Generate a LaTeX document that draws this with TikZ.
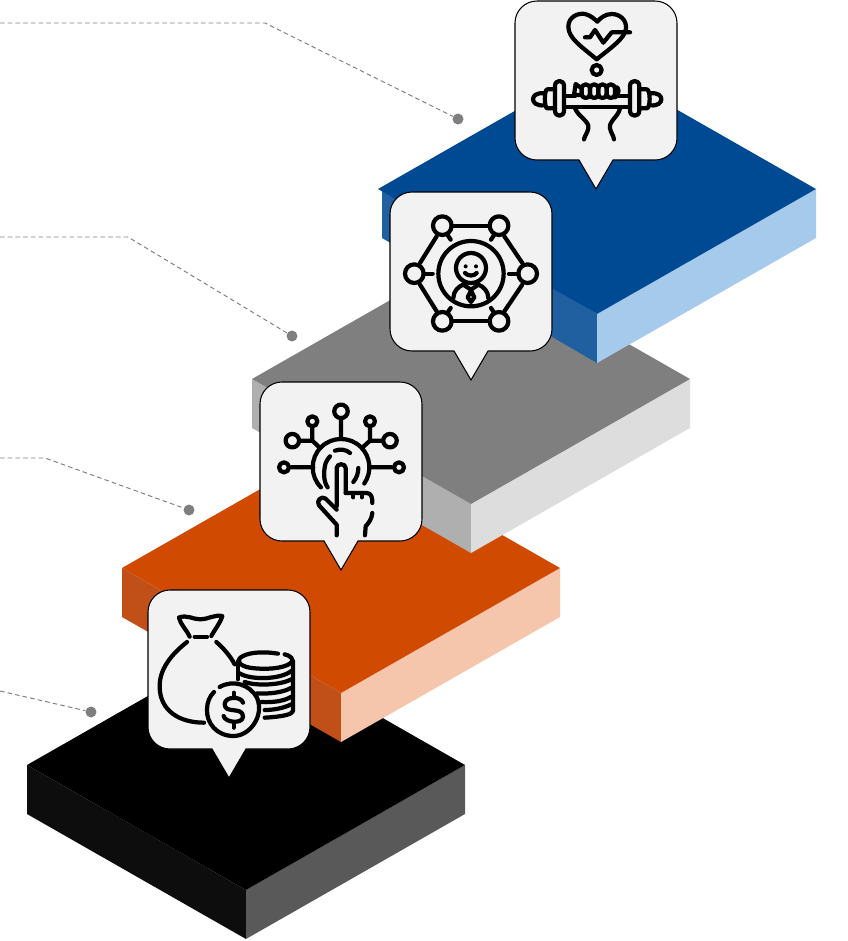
\documentclass[tikz,border=0pt]{standalone}
\usepackage{tikz}

\definecolor{blueTop}{HTML}{004A94}
\definecolor{blueLeft}{HTML}{2060A0}
\definecolor{blueRight}{HTML}{A6CAEC}
\definecolor{grayTop}{HTML}{7F7F7F}
\definecolor{grayLeft}{HTML}{AFAFAF}
\definecolor{grayRight}{HTML}{DDDDDD}
\definecolor{orangeTop}{HTML}{D14A02}
\definecolor{orangeLeft}{HTML}{C05018}
\definecolor{orangeRight}{HTML}{F6C6AC}
\definecolor{blackLeft}{HTML}{0D0D0D}
\definecolor{blackRight}{HTML}{595959}
\definecolor{boxFill}{HTML}{F2F2F2}

% slab: left x, top y, colours, inset of the left face
\newcommand{\slab}[6]{
  \begin{scope}[shift={(#1,#2)}]
    \fill[#4] (#6,0) -- (219,125) -- (219,174) -- (#6,49) -- cycle;
    \fill[#5] (438,0) -- (219,125) -- (219,174) -- (438,49) -- cycle;
    \fill[#3] (0,0) -- (219,-125) -- (438,0) -- (219,125) -- cycle;
  \end{scope}
}
% callout: box left x, box top y
\newcommand{\callout}[2]{
  \draw[calloutbox] (#1,#2+22) arc[start angle=180,end angle=270,radius=22]
    -- (#1+140,#2) arc[start angle=270,end angle=360,radius=22]
    -- (#1+162,#2+137) arc[start angle=0,end angle=90,radius=22]
    -- (#1+98,#2+159) -- (#1+81,#2+188) -- (#1+64,#2+159)
    -- (#1+22,#2+159) arc[start angle=90,end angle=180,radius=22] -- cycle;
}

\begin{document}
\begin{tikzpicture}[x=0.02cm, y=-0.02cm,
    leader/.style={grayTop, dash pattern=on 2.6pt off 1.8pt, line width=0.55pt},
    dotnode/.style={circle, fill=grayTop, inner sep=0pt, minimum size=0.22cm},
    calloutbox/.style={fill=boxFill, draw=black, line width=0.6pt},
    icon/.style={line width=2.4pt, line cap=round, line join=round, draw=black},
    ring/.style={circle, draw=black, line width=2.4pt, fill=none, inner sep=0pt}]

    \useasboundingbox (0,0) rectangle (848,941);

    % Slabs
    \slab{27}{765}{black}{blackLeft}{blackRight}{0}
    \slab{122}{568}{orangeTop}{orangeLeft}{orangeRight}{0}
    \slab{252}{379}{grayTop}{grayLeft}{grayRight}{0}
    \slab{378}{189}{blueTop}{blueLeft}{blueRight}{4}

    % Dots and leaders
    \node[dotnode] (dot1) at (458,119) {};
    \node[dotnode] (dot2) at (292,336) {};
    \node[dotnode] (dot3) at (189,510) {};
    \node[dotnode] (dot4) at (91,712) {};
    \coordinate (end1) at (0,23);
    \coordinate (end2) at (0,237);
    \coordinate (end3) at (0,458);
    \coordinate (end4) at (0,691);
    \draw[leader] (end1) -- (265,23) -- (dot1);
    \draw[leader] (end2) -- (128,237) -- (dot2);
    \draw[leader] (end3) -- (45,458) -- (dot3);
    \draw[leader] (end4) -- (dot4);

    % Callouts
    \callout{515}{1}
    \callout{390}{192}
    \callout{260}{382}
    \callout{148}{590}

    % Fitness icon
    \begin{scope}[shift={(510,0)}, scale=1/3, icon]
        \draw (260,178) .. controls (215,140) and (175,115) .. (175,80)
              .. controls (175,50) and (205,38) .. (225,42)
              .. controls (240,45) and (255,58) .. (262,65)
              .. controls (270,55) and (285,42) .. (305,42)
              .. controls (330,42) and (350,60) .. (348,85)
              .. controls (346,115) and (300,145) .. (260,178);
        \draw (225,112) -- (240,112) -- (255,90) -- (280,128) -- (305,97) -- (360,97);
        \node[ring, minimum size=0.2cm] (pulse) at (260,210) {};
        \draw (165,288) -- (195,288) (325,288) -- (360,288);
        \draw (165,320) -- (360,320);
        \draw (135,258) .. controls (135,238) and (162,238) .. (162,258) -- (162,332)
              .. controls (162,352) and (135,352) .. (135,332) -- cycle;
        \draw (360,258) .. controls (360,238) and (388,238) .. (388,258) -- (388,332)
              .. controls (388,352) and (360,352) .. (360,332) -- cycle;
        \draw (135,268) -- (112,268) .. controls (102,268) and (102,325) .. (112,325) -- (135,325);
        \draw (388,268) -- (410,268) .. controls (422,268) and (422,325) .. (410,325) -- (388,325);
        \draw (102,280) .. controls (58,275) and (58,320) .. (102,316);
        \draw (422,280) .. controls (465,275) and (465,320) .. (422,316);
        \draw (192,285) -- (197,252) -- (215,265) -- (215,285) -- (195,285);
        \foreach \fx in {215,240,265,290} {
            \draw (\fx,268) .. controls (\fx,248) and (\fx+25,248) .. (\fx+25,268)
                  -- (\fx+25,282) .. controls (\fx+25,298) and (\fx,298) .. (\fx,282) -- cycle;
        }
        \draw (315,262) .. controls (328,255) and (330,285) .. (315,292);
        \draw (195,325) .. controls (205,350) and (240,365) .. (235,385) .. controls (232,400) and (225,405) .. (222,418);
        \draw (330,325) .. controls (325,350) and (295,365) .. (300,385) .. controls (303,400) and (310,405) .. (312,418);
    \end{scope}

    % Network icon
    \begin{scope}[shift={(385,188)}, scale=1/3, icon]
        \foreach \nx/\ny in {172/113, 342/113, 88/257, 428/257, 172/400, 342/400} {
            \draw (\nx,\ny) circle[radius=28];
        }
        \draw (200,113) -- (314,113) (200,400) -- (314,400);
        \draw (155,145) -- (105,225) (358,145) -- (412,225);
        \draw (105,290) -- (155,370) (412,290) -- (358,370);
        \draw (187,140) -- (197,155) (328,140) -- (318,155);
        \draw (187,375) -- (197,360) (328,375) -- (318,360);
        \draw (116,257) -- (143,257) (400,257) -- (372,257);
        \draw (258,257) circle[radius=98];
        \draw (258,240) circle[radius=45];
        \fill (242,235) circle[radius=6] (273,235) circle[radius=6];
        \draw (240,255) .. controls (248,265) and (268,265) .. (275,255);
        \draw (205,330) .. controls (205,310) and (220,295) .. (235,290);
        \draw (310,330) .. controls (310,310) and (295,295) .. (280,290);
        \draw (235,290) -- (258,305) -- (280,290);
        \draw (258,308) -- (248,328) -- (258,342) -- (268,328) -- cycle;
    \end{scope}

    % Touch icon
    \begin{scope}[shift={(255,378)}, scale=1/3, icon]
        \node[ring, minimum size=0.27cm] (touch1) at (258,100) {};
        \node[ring, minimum size=0.2cm] (touch2) at (172,130) {};
        \node[ring, minimum size=0.2cm] (touch3) at (345,130) {};
        \node[ring, minimum size=0.27cm] (touch4) at (112,188) {};
        \node[ring, minimum size=0.27cm] (touch5) at (405,188) {};
        \node[ring, minimum size=0.2cm] (touch6) at (87,268) {};
        \node[ring, minimum size=0.2cm] (touch7) at (432,268) {};
        \draw (touch1) -- (258,183);
        \draw (touch2) -- (172,188) -- (193,208);
        \draw (touch3) -- (345,188) -- (323,208);
        \draw (touch4) -- (172,188);
        \draw (touch5) -- (345,188);
        \draw (touch6) -- (175,268);
        \draw (touch7) -- (345,268);
        \draw (198,328) arc[start angle=135,end angle=395,radius=85];
        \draw (218,328) .. controls (205,310) and (205,280) .. (212,255)
              .. controls (215,245) and (222,240) .. (225,235);
        \draw (240,218) .. controls (255,212) and (275,215) .. (285,225);
        \draw (310,270) .. controls (310,285) and (305,300) .. (295,312);
        \draw (245,385) -- (245,270) .. controls (245,255) and (272,255) .. (272,270) -- (272,345);
        \draw (272,345) -- (335,345) .. controls (350,345) and (352,360) .. (352,375);
        \draw (295,345) -- (295,358) (320,345) -- (320,358);
        \draw (245,395) -- (212,362) .. controls (200,352) and (182,368) .. (192,382) -- (245,440) -- (245,472);
        \draw (352,405) .. controls (350,425) and (340,435) .. (332,445) -- (330,472);
    \end{scope}

    % Money icon
    \begin{scope}[shift={(143,586)}, scale=1/3, icon]
        \draw (108,95) .. controls (130,85) and (150,100) .. (172,100)
              .. controls (195,100) and (215,85) .. (238,90)
              .. controls (230,115) and (215,130) .. (205,150);
        \draw (108,95) .. controls (112,115) and (130,130) .. (140,152);
        \draw (155,152) -- (192,152);
        \draw (132,168) .. controls (85,205) and (48,250) .. (50,305)
              .. controls (52,375) and (110,410) .. (183,410);
        \draw (220,168) .. controls (240,185) and (262,210) .. (275,235);
        \draw (405,203) .. controls (370,197) and (325,197) .. (300,210)
              .. controls (275,222) and (290,240) .. (320,245)
              .. controls (365,252) and (420,248) .. (442,232)
              .. controls (458,220) and (440,208) .. (425,205);
        \draw (285,225) -- (285,280);
        \draw (450,225) -- (450,375) .. controls (448,385) and (420,392) .. (365,395);
        \draw (290,262) .. controls (320,282) and (410,282) .. (445,255);
        \draw (305,288) .. controls (340,300) and (410,298) .. (445,280);
        \draw (342,322) .. controls (380,325) and (425,318) .. (445,305);
        \draw (355,348) .. controls (390,350) and (425,345) .. (445,332);
        \draw (365,372) .. controls (395,372) and (425,365) .. (445,355);
        \draw (230,303) .. controls (270,280) and (320,295) .. (342,335)
              .. controls (365,390) and (320,450) .. (272,450)
              .. controls (220,450) and (190,410) .. (192,370)
              .. controls (192,350) and (200,330) .. (213,318);
        \draw (300,350) .. controls (295,330) and (245,330) .. (245,355)
              .. controls (245,385) and (300,360) .. (300,392)
              .. controls (300,415) and (245,410) .. (242,390);
        \draw (272,320) -- (272,335) (272,410) -- (272,425);
    \end{scope}
\end{tikzpicture}
\end{document}
